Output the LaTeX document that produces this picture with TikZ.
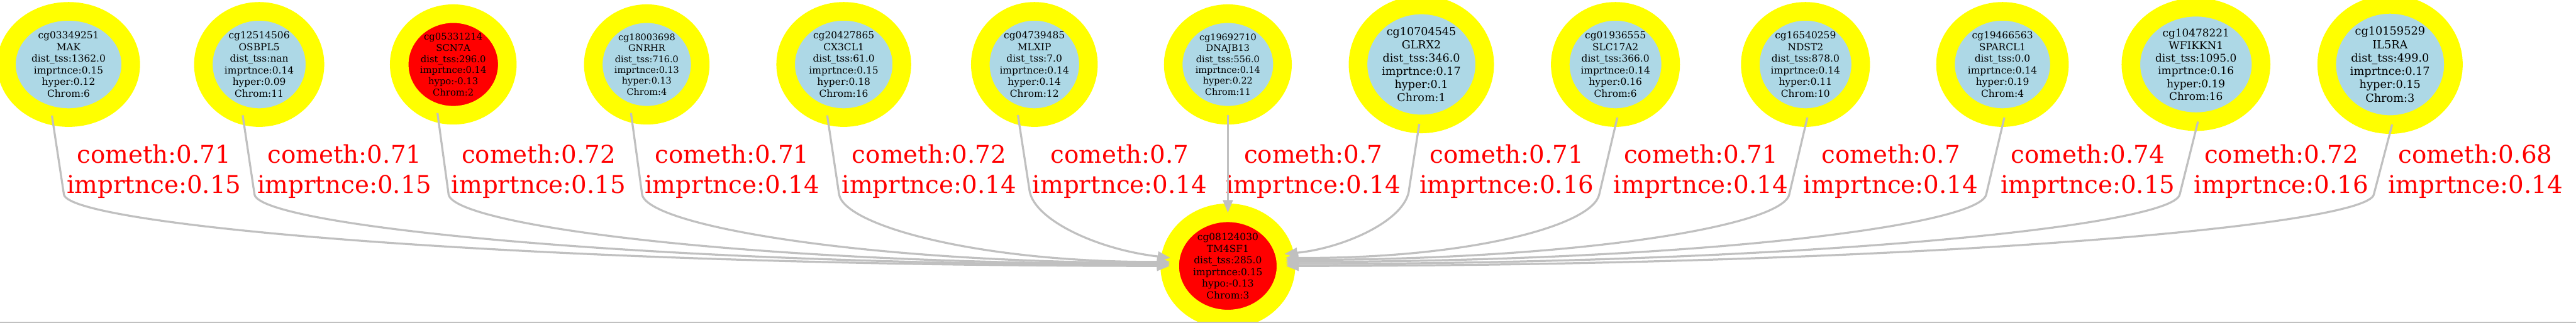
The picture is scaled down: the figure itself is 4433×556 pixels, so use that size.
\documentclass[tikz,border=0pt]{standalone}
\usepackage{fontspec}
\newfontfamily\gvfont{DejaVu Serif}
\usetikzlibrary{shapes.geometric,arrows.meta}
\definecolor{gvyellow}{RGB}{255,255,0}
\definecolor{gvblue}{RGB}{173,216,230}
\definecolor{gvred}{RGB}{255,0,0}
\definecolor{gvgray}{RGB}{192,192,192}
\tikzset{
  cpg/.style={ellipse, draw=gvyellow, line width=16pt, inner sep=0pt, outer sep=0pt, align=center, text=black},
  hyperc/.style={cpg, fill=gvblue},
  hypoc/.style={cpg, fill=gvred},
  sz/.style 2 args={minimum width=#1pt, minimum height=#2pt},
  nfont/.style 2 args={font=\gvfont\fontsize{#1pt}{#2pt}\selectfont},
  edgeln/.style={draw=gvgray, line width=1.75pt, -{Triangle[length=11pt,width=8.5pt,fill=gvgray]}},
  elab/.style={text=gvred, font=\gvfont\fontsize{21pt}{26pt}\selectfont, align=center, inner sep=0pt, anchor=north},
  border/.style={draw=gvgray, line width=1pt}
}
\begin{document}
\begin{tikzpicture}[x=0.5pt,y=-0.5pt]
\useasboundingbox (0,0) rectangle (4433,556);
% top nodes
\node[hyperc, sz={107}{91.5}, nfont={8.35}{10}] (n1) at (118,111) {cg03349251\\MAK\\dist\_tss:1362.0\\imprtnce:0.15\\hyper:0.12\\Chrom:6};
\node[hyperc, sz={96}{91.5}, nfont={8.35}{10}] (n2) at (446,111) {cg12514506\\OSBPL5\\dist\_tss:nan\\imprtnce:0.14\\hyper:0.09\\Chrom:11};
\node[hypoc, sz={93}{87.5}, nfont={8}{9.6}] (n3) at (780,111) {cg05331214\\SCN7A\\dist\_tss:296.0\\imprtnce:0.14\\hypo:-0.13\\Chrom:2};
\node[hyperc, sz={92}{87.5}, nfont={7.8}{9.35}] (n4) at (1113,111) {cg18003698\\GNRHR\\dist\_tss:716.0\\imprtnce:0.13\\hyper:0.13\\Chrom:4};
\node[hyperc, sz={100}{91.5}, nfont={8.35}{10}] (n5) at (1452,111) {cg20427865\\CX3CL1\\dist\_tss:61.0\\imprtnce:0.15\\hyper:0.18\\Chrom:16};
\node[hyperc, sz={93}{91.5}, nfont={8.35}{10}] (n6) at (1780,111) {cg04739485\\MLXIP\\dist\_tss:7.0\\imprtnce:0.14\\hyper:0.14\\Chrom:12};
\node[hyperc, sz={94}{87.5}, nfont={7.8}{9.35}] (n7) at (2113,111) {cg19692710\\DNAJB13\\dist\_tss:556.0\\imprtnce:0.14\\hyper:0.22\\Chrom:11};
\node[hyperc, sz={109}{102.5}, nfont={9.5}{11.4}] (n8) at (2446,111) {cg10704545\\GLRX2\\dist\_tss:346.0\\imprtnce:0.17\\hyper:0.1\\Chrom:1};
\node[hyperc, sz={95}{91.5}, nfont={8.35}{10}] (n9) at (2780,111) {cg01936555\\SLC17A2\\dist\_tss:366.0\\imprtnce:0.14\\hyper:0.16\\Chrom:6};
\node[hyperc, sz={95}{91.5}, nfont={8.35}{10}] (n10) at (3107,111) {cg16540259\\NDST2\\dist\_tss:878.0\\imprtnce:0.14\\hyper:0.11\\Chrom:10};
\node[hyperc, sz={98}{91.5}, nfont={8.35}{10}] (n11) at (3446,111) {cg19466563\\SPARCL1\\dist\_tss:0.0\\imprtnce:0.14\\hyper:0.19\\Chrom:4};
\node[hyperc, sz={112}{98.5}, nfont={9.15}{10.95}] (n12) at (3779,111) {cg10478221\\WFIKKN1\\dist\_tss:1095.0\\imprtnce:0.16\\hyper:0.19\\Chrom:16};
\node[hyperc, sz={109}{103.5}, nfont={9.6}{11.5}] (n13) at (4113,111) {cg10159529\\IL5RA\\dist\_tss:499.0\\imprtnce:0.17\\hyper:0.15\\Chrom:3};
% target node
\node[hypoc, sz={100}{91.5}, nfont={8.35}{10}] (tg) at (2113,458) {cg08124030\\TM4SF1\\dist\_tss:285.0\\imprtnce:0.15\\hypo:-0.13\\Chrom:3};
% edge labels
\node[elab] (l1) at (265,248) {cometh:0.71\\imprtnce:0.15};
\node[elab] (l2) at (593,248) {cometh:0.71\\imprtnce:0.15};
\node[elab] (l3) at (927,248) {cometh:0.72\\imprtnce:0.15};
\node[elab] (l4) at (1260,248) {cometh:0.71\\imprtnce:0.14};
\node[elab] (l5) at (1599,248) {cometh:0.72\\imprtnce:0.14};
\node[elab] (l6) at (1927,248) {cometh:0.7\\imprtnce:0.14};
\node[elab] (l7) at (2260,248) {cometh:0.7\\imprtnce:0.14};
\node[elab] (l8) at (2593,248) {cometh:0.71\\imprtnce:0.16};
\node[elab] (l9) at (2927,248) {cometh:0.71\\imprtnce:0.14};
\node[elab] (l10) at (3254,248) {cometh:0.7\\imprtnce:0.14};
\node[elab] (l11) at (3593,248) {cometh:0.74\\imprtnce:0.15};
\node[elab] (l12) at (3926,248) {cometh:0.72\\imprtnce:0.16};
\node[elab] (l13) at (4260,248) {cometh:0.68\\imprtnce:0.14};
% edges from the left
\draw[edgeln] (n1.-108) -- (110,335) .. controls (120,389) and (912,458) .. (tg.180);
\draw[edgeln] (n2.-108) -- (438,335) .. controls (448,389) and (1102,456) .. (tg.179);
\draw[edgeln] (n3.-108) -- (772,335) .. controls (782,389) and (1296,455) .. (tg.178);
\draw[edgeln] (n4.-108) -- (1105,335) .. controls (1115,389) and (1489,453) .. (tg.177);
\draw[edgeln] (n5.-108) -- (1444,335) .. controls (1454,389) and (1686,452) .. (tg.176);
\draw[edgeln] (n6.-108) -- (1772,330) .. controls (1782,380) and (1890,430) .. (tg.172);
% straight edge
\draw[edgeln] (n7.south) -- (tg.north);
% edges from the right
\draw[edgeln] (n8.-92) -- (2425,325) .. controls (2421,380) and (2310,428) .. (tg.12);
\draw[edgeln] (n9.-88) -- (2752,335) .. controls (2740,389) and (2526,446) .. (tg.8);
\draw[edgeln] (n10.-88) -- (3079,335) .. controls (3067,389) and (2715,448) .. (tg.6);
\draw[edgeln] (n11.-88) -- (3418,335) .. controls (3406,389) and (2912,451) .. (tg.4);
\draw[edgeln] (n12.-88) -- (3751,335) .. controls (3739,389) and (3105,455) .. (tg.2);
\draw[edgeln] (n13.-88) -- (4085,335) .. controls (4073,389) and (3299,458) .. (tg.0);
% bottom border line
\draw[border] (0,555) -- (4433,555);
\end{tikzpicture}
\end{document}
